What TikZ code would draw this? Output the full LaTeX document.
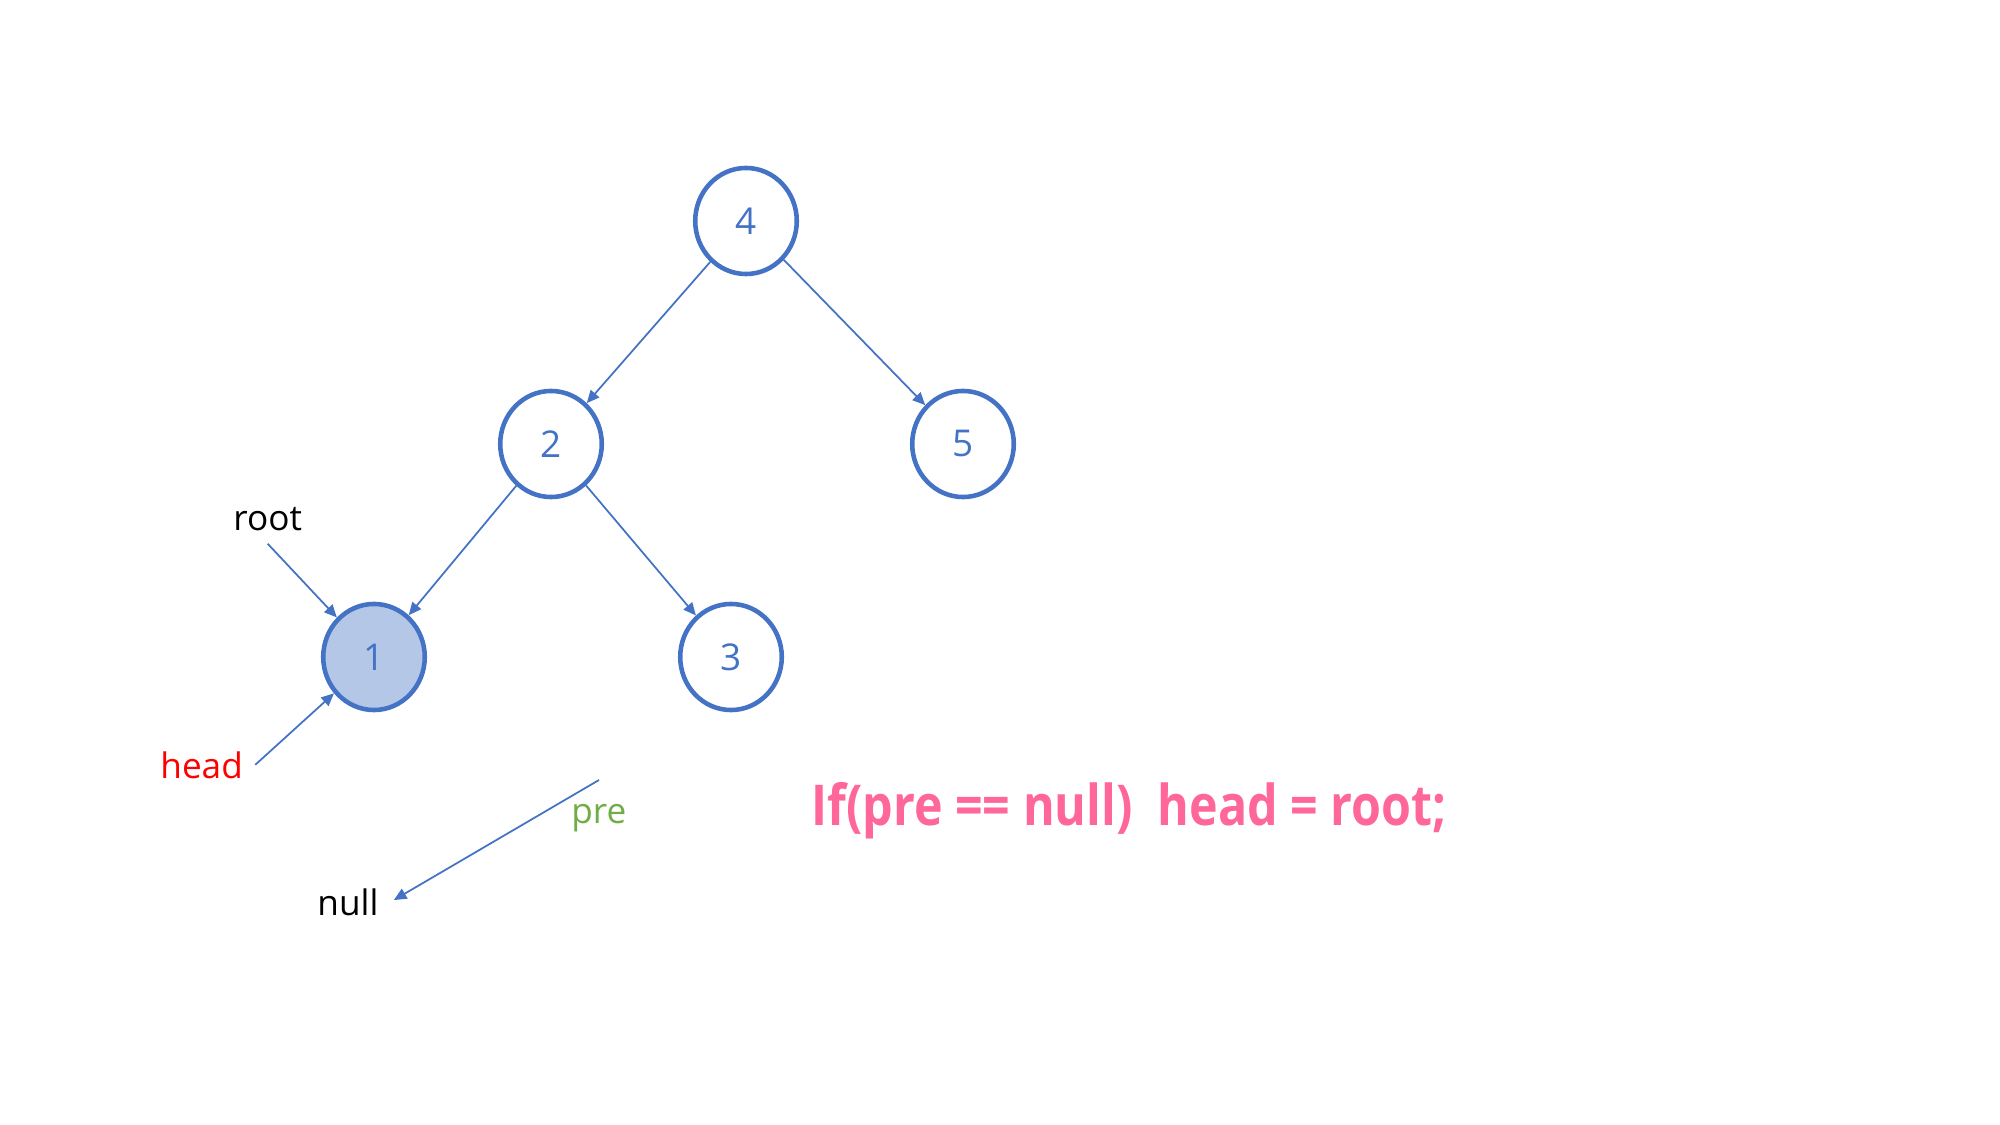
\documentclass[tikz,border=0pt]{standalone}
\usepackage{fontspec}
\setmainfont{Open Sans}
\newfontfamily\codefont[FakeStretch=0.86]{Open Sans}
\usetikzlibrary{shapes.geometric,arrows.meta}
\definecolor{nodeblue}{HTML}{4472C4}
\definecolor{nodefill}{HTML}{B4C7E7}
\definecolor{prered}{HTML}{FF0000}
\definecolor{pregreen}{HTML}{70AD47}
\definecolor{codepink}{HTML}{FF6699}

\begin{document}
\begin{tikzpicture}[x=0.01cm,y=-0.01cm,
	treenode/.style={ellipse,draw=nodeblue,line width=1.3pt,text=nodeblue,
		minimum width=1.015cm,minimum height=1.06cm,inner sep=0pt,font=\fontsize{10.5}{12}\selectfont},
	ptr/.style={draw=nodeblue,line width=0.5pt,-{Triangle[length=3.6pt,width=3.2pt]}},
	lbl/.style={anchor=base west,font=\fontsize{10}{12}\selectfont}]

	\useasboundingbox (0,0) rectangle (2000,1125);

	\node[treenode] (n4) at (746,221) {4};
	\node[treenode] (n2) at (551,444) {2};
	\node[treenode] (n5) at (963,444) {5};
	\node[treenode,fill=nodefill] (n1) at (374,657) {1};
	\node[treenode] (n3) at (731,657) {3};

	\draw[ptr] (n4) -- (n2);
	\draw[ptr] (n4) -- (n5);
	\draw[ptr] (n2) -- (n1);
	\draw[ptr] (n2) -- (n3);

	%pointers
	\node[lbl] (root) at (221,531) {root};
	\node[lbl,text=prered] (head) at (148,778) {head};
	\node[lbl,text=pregreen] (pre) at (559,823) {pre};
	\node[lbl] (null) at (305,915) {null};
	\coordinate (pretail) at (599,780);

	\draw[ptr] (root.south) -- (n1);
	\draw[ptr] (head.east) -- (n1);
	\draw[ptr,shorten >=1pt] (pretail) -- (null.east);

	\node[anchor=base west,text=codepink,font=\codefont\bfseries\fontsize{16}{19}\selectfont] (cond) at (799,825) {If(pre == null)~ head = root;};

\end{tikzpicture}
\end{document}
